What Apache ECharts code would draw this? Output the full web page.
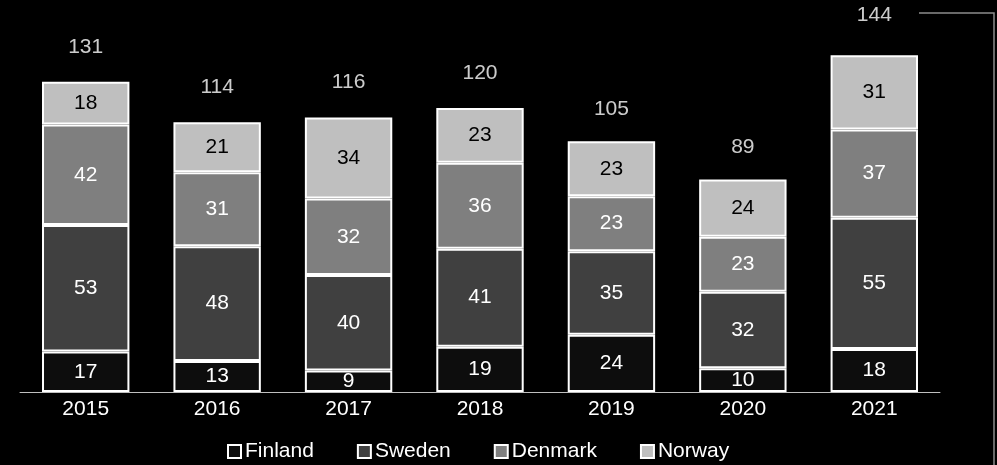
<!DOCTYPE html>
<html>
<head>
<meta charset="utf-8">
<script src="https://cdn.jsdelivr.net/npm/echarts@6/dist/echarts.min.js"></script>
<style>
html,body{margin:0;padding:0;background:#000;}
#chart{width:997px;height:465px;}
</style>
</head>
<body>
<div id="chart"></div>
<script>
const years = ['2015','2016','2017','2018','2019','2020','2021'];
const finland = [17, 13, 9, 19, 24, 10, 18];
const sweden  = [53, 48, 40, 41, 35, 32, 55];
const denmark = [42, 31, 32, 36, 23, 23, 37];
const norway  = [18, 21, 34, 23, 23, 24, 31];
const totals  = [131, 114, 116, 120, 105, 89, 144];

const FONT = '"Liberation Sans", Arial, sans-serif';
const chart = echarts.init(document.getElementById('chart'));

function seg(name, data, color, textColor) {
  return {
    name: name, type: 'bar', stack: 'total', data: data,
    barWidth: '66.5%',
    itemStyle: { color: color, borderColor: '#ffffff', borderWidth: 2 },
    label: { show: true, position: 'inside', color: textColor, fontSize: 21, fontFamily: FONT },
    emphasis: { disabled: true },
    animation: false
  };
}

chart.setOption({
  backgroundColor: '#000000',
  animation: false,
  grid: { left: 20, right: 57, top: 10, bottom: 73, containLabel: false },
  xAxis: {
    type: 'category', data: years,
    axisLine: { show: true, lineStyle: { color: '#bfbfbf', width: 1 } },
    axisTick: { show: false },
    axisLabel: { color: '#ffffff', fontSize: 21, fontFamily: FONT, margin: 7 }
  },
  yAxis: { type: 'value', min: 0, max: 160, show: false, splitLine: { show: false } },
  legend: {
    left: 227, top: 441, padding: 0,
    itemWidth: 13, itemHeight: 13, itemGap: 43,
    icon: 'rect',
    itemStyle: { borderColor: '#ffffff', borderWidth: 2 },
    textStyle: { color: '#ffffff', fontSize: 21, fontFamily: FONT, padding: [0,0,0,-1] },
    data: ['Finland','Sweden','Denmark','Norway']
  },
  series: [
    seg('Finland', finland, '#0d0d0d', '#ffffff'),
    seg('Sweden', sweden, '#404040', '#ffffff'),
    seg('Denmark', denmark, '#7f7f7f', '#ffffff'),
    seg('Norway', norway, '#bfbfbf', '#000000'),
    {
      name: 'Total', type: 'scatter', data: totals,
      symbolSize: 0, silent: true,
      label: { show: true, position: 'top', distance: 22, color: '#ffffff', fontSize: 21, fontFamily: FONT },
      animation: false
    }
  ],
  graphic: [{
    type: 'polyline',
    shape: { points: [[919, 13], [994, 13], [994, 470]] },
    style: { stroke: '#8c8c8c', lineWidth: 1.5, fill: null },
    silent: true
  }]
});
</script>
</body>
</html>
